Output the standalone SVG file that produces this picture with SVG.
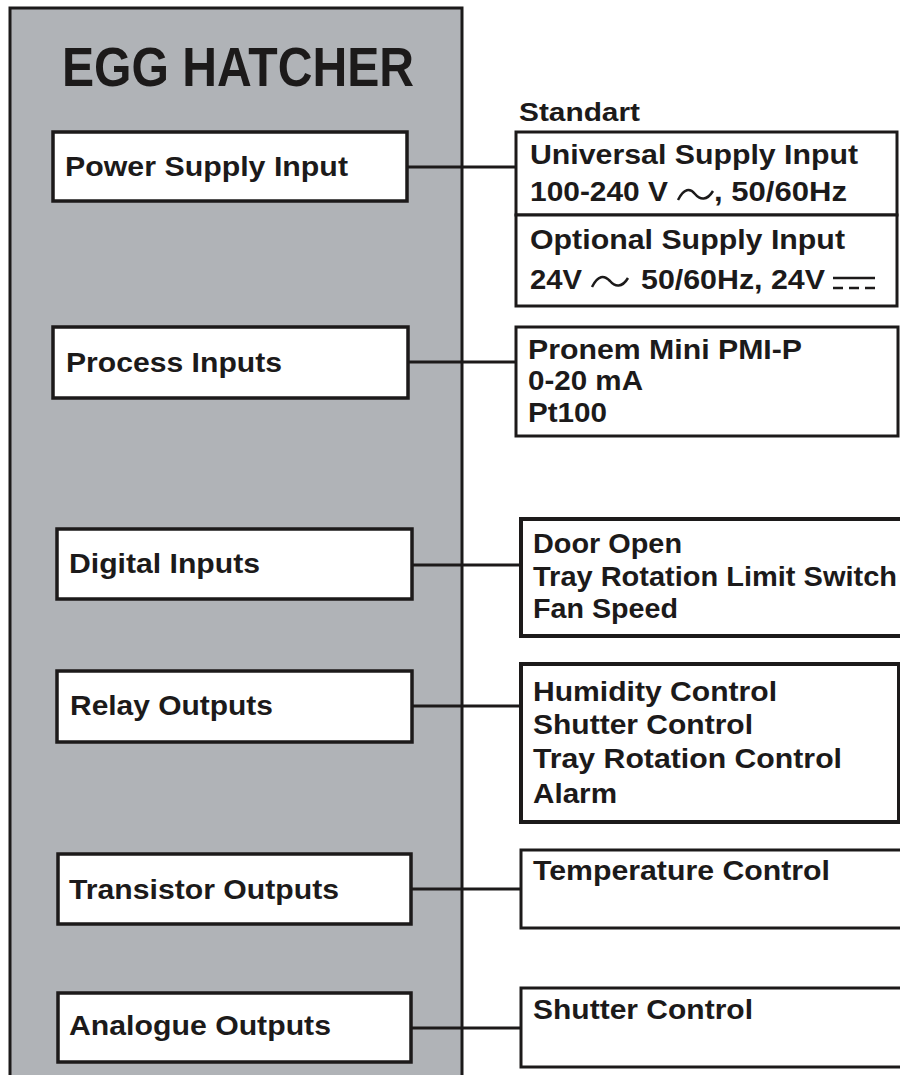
<svg xmlns="http://www.w3.org/2000/svg" width="900" height="1075" viewBox="0 0 900 1075">
<style>
.panel{fill:#b0b3b7;stroke:#1c1a1a;stroke-width:3}
.box{fill:#ffffff;stroke:#1c1a1a;stroke-width:3.5}
.rbox{fill:#ffffff;stroke:#1c1a1a;stroke-width:3}
.rbox2{fill:#ffffff;stroke:#1c1a1a;stroke-width:4}
.t{font-family:"Liberation Sans",Arial,sans-serif;font-weight:bold;font-size:28.5px;fill:#1c1a1a}
.s{font-family:"Liberation Sans",Arial,sans-serif;font-weight:bold;font-size:26px;fill:#1c1a1a}
.title{font-family:"Liberation Sans",Arial,sans-serif;font-weight:bold;font-size:56px;fill:#1c1a1a}
.conn{stroke:#1c1a1a;stroke-width:3;fill:none}
.sym{stroke:#1c1a1a;stroke-width:2.5;fill:none}
</style>
<rect x="0" y="0" width="900" height="1075" fill="#ffffff"/>
<g id="panel">
<rect class="panel" x="10" y="8" width="452" height="1090"/>
<text class="title" x="62" y="86" textLength="352" lengthAdjust="spacingAndGlyphs">EGG HATCHER</text>
</g>
<g id="connectors">
<line class="conn" x1="407" y1="167" x2="516" y2="167"/>
<line class="conn" x1="408" y1="362" x2="516" y2="362"/>
<line class="conn" x1="412" y1="565" x2="521" y2="565"/>
<line class="conn" x1="412" y1="706" x2="521" y2="706"/>
<line class="conn" x1="411" y1="889" x2="521" y2="889"/>
<line class="conn" x1="411" y1="1028" x2="521" y2="1028"/>
</g>
<g id="power-supply-input">
<rect class="box" x="53" y="132" width="354" height="69"/>
<text class="t" x="65" y="176" textLength="283" lengthAdjust="spacingAndGlyphs">Power Supply Input</text>
</g>
<g id="process-inputs">
<rect class="box" x="53" y="327" width="355" height="71"/>
<text class="t" x="66" y="372" textLength="216" lengthAdjust="spacingAndGlyphs">Process Inputs</text>
</g>
<g id="digital-inputs">
<rect class="box" x="57" y="529" width="355" height="70"/>
<text class="t" x="69" y="573" textLength="191" lengthAdjust="spacingAndGlyphs">Digital Inputs</text>
</g>
<g id="relay-outputs">
<rect class="box" x="57" y="671" width="355" height="71"/>
<text class="t" x="70" y="715" textLength="203" lengthAdjust="spacingAndGlyphs">Relay Outputs</text>
</g>
<g id="transistor-outputs">
<rect class="box" x="58" y="854" width="353" height="70"/>
<text class="t" x="69" y="899" textLength="270" lengthAdjust="spacingAndGlyphs">Transistor Outputs</text>
</g>
<g id="analogue-outputs">
<rect class="box" x="58" y="993" width="353" height="69"/>
<text class="t" x="69" y="1035" textLength="262" lengthAdjust="spacingAndGlyphs">Analogue Outputs</text>
</g>
<g id="supply-options">
<text class="s" x="519" y="121" textLength="121" lengthAdjust="spacingAndGlyphs">Standart</text>
<rect class="rbox" x="516" y="132" width="381" height="83"/>
<rect class="rbox" x="516" y="215" width="381" height="91"/>
<text class="t" x="530" y="164" textLength="328" lengthAdjust="spacingAndGlyphs">Universal Supply Input</text>
<text class="t" x="530" y="201" textLength="138" lengthAdjust="spacingAndGlyphs">100-240 V</text>
<path class="sym" d="M678,200 C684,188 690,188 695,194 C700,200 707,201 713,191"/>
<text class="t" x="714" y="201" textLength="133" lengthAdjust="spacingAndGlyphs">, 50/60Hz</text>
<text class="t" x="530" y="249" textLength="315" lengthAdjust="spacingAndGlyphs">Optional Supply Input</text>
<text class="t" x="530" y="289" textLength="52" lengthAdjust="spacingAndGlyphs">24V</text>
<path class="sym" d="M592,287 C598,275 604,275 610,281 C615,287 622,288 628,278"/>
<text class="t" x="641" y="289" textLength="184" lengthAdjust="spacingAndGlyphs">50/60Hz, 24V</text>
<line class="sym" x1="833" y1="278" x2="875" y2="278"/>
<line class="sym" x1="833" y1="288" x2="875" y2="288" stroke-dasharray="10 6"/>
</g>
<g id="process-details">
<rect class="rbox" x="516" y="327" width="382" height="109"/>
<text class="t" x="528" y="359" textLength="274" lengthAdjust="spacingAndGlyphs">Pronem Mini PMI-P</text>
<text class="t" x="528" y="390" textLength="115" lengthAdjust="spacingAndGlyphs">0-20 mA</text>
<text class="t" x="528" y="422" textLength="79" lengthAdjust="spacingAndGlyphs">Pt100</text>
</g>
<g id="digital-details">
<rect class="rbox2" x="521" y="519" width="390" height="117"/>
<text class="t" x="533" y="553" textLength="149" lengthAdjust="spacingAndGlyphs">Door Open</text>
<text class="t" x="533" y="586" textLength="364" lengthAdjust="spacingAndGlyphs">Tray Rotation Limit Switch</text>
<text class="t" x="533" y="618" textLength="145" lengthAdjust="spacingAndGlyphs">Fan Speed</text>
</g>
<g id="relay-details">
<rect class="rbox2" x="521" y="664" width="378" height="158"/>
<text class="t" x="533" y="701" textLength="244" lengthAdjust="spacingAndGlyphs">Humidity Control</text>
<text class="t" x="533" y="734" textLength="220" lengthAdjust="spacingAndGlyphs">Shutter Control</text>
<text class="t" x="533" y="768" textLength="309" lengthAdjust="spacingAndGlyphs">Tray Rotation Control</text>
<text class="t" x="533" y="803" textLength="84" lengthAdjust="spacingAndGlyphs">Alarm</text>
</g>
<g id="transistor-details">
<rect class="rbox" x="521" y="850" width="390" height="78"/>
<text class="t" x="533" y="880" textLength="297" lengthAdjust="spacingAndGlyphs">Temperature Control</text>
</g>
<g id="analogue-details">
<rect class="rbox" x="521" y="988" width="390" height="79"/>
<text class="t" x="533" y="1019" textLength="220" lengthAdjust="spacingAndGlyphs">Shutter Control</text>
</g>
</svg>
